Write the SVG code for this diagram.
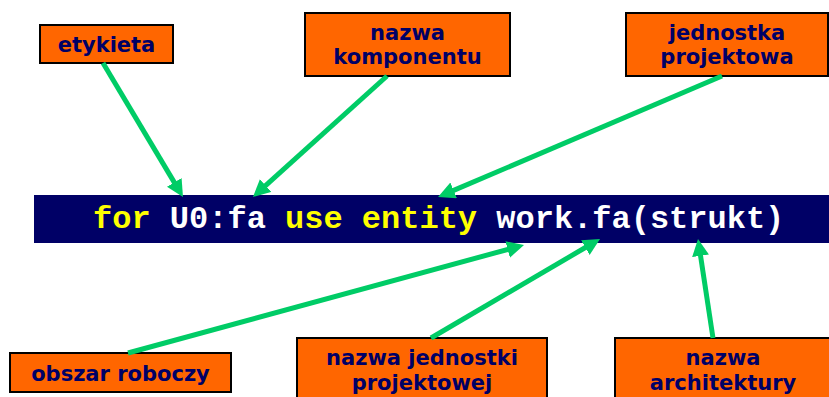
<svg xmlns="http://www.w3.org/2000/svg" width="829" height="397" viewBox="0 0 829 397">
  <style>
    .box { fill: #ff6600; stroke: #000; stroke-width: 2; }
    .lbl { font-family: "DejaVu Sans", Verdana, sans-serif; font-weight: bold; font-size: 21px; fill: #000066; text-anchor: middle; }
    .code { font-family: "Liberation Mono", "Courier New", monospace; font-weight: bold; font-size: 32px; }
    .kw { fill: #ffff00; }
    .id { fill: #ffffff; }
    .arrow { stroke: #00cc66; stroke-width: 5; fill: none; marker-end: url(#head); }
  </style>
  <defs>
    <marker id="head" markerUnits="userSpaceOnUse" markerWidth="18" markerHeight="18" refX="9" refY="8.5" orient="auto">
      <path d="M0,0 L17,8.5 L0,17 z" fill="#00cc66"/>
    </marker>
  </defs>
  <rect width="829" height="397" fill="#ffffff"/>

  <!-- VHDL configuration statement -->
  <g id="statement">
    <rect x="34" y="195" width="800" height="48" fill="#000066"/>
    <text class="code" x="93" y="228"><tspan class="kw">for</tspan><tspan class="id"> U0:fa </tspan><tspan class="kw">use entity</tspan><tspan class="id"> work.fa(strukt)</tspan></text>
  </g>

  <g id="etykieta">
    <rect class="box" x="40" y="25" width="133" height="38"/>
    <text class="lbl" x="106.5" y="52">etykieta</text>
  </g>

  <g id="nazwa-komponentu">
    <rect class="box" x="305" y="13" width="205" height="63"/>
    <text class="lbl" x="407.5" y="40">nazwa</text>
    <text class="lbl" x="407.5" y="64">komponentu</text>
  </g>

  <g id="jednostka-projektowa">
    <rect class="box" x="626" y="13" width="202" height="63"/>
    <text class="lbl" x="727" y="40">jednostka</text>
    <text class="lbl" x="727" y="64">projektowa</text>
  </g>

  <g id="obszar-roboczy">
    <rect class="box" x="10" y="353" width="221" height="39"/>
    <text class="lbl" x="120.5" y="381">obszar roboczy</text>
  </g>

  <g id="nazwa-jednostki-projektowej">
    <rect class="box" x="297" y="338" width="250" height="70"/>
    <text class="lbl" x="422" y="365">nazwa jednostki</text>
    <text class="lbl" x="422" y="390">projektowej</text>
  </g>

  <g id="nazwa-architektury">
    <rect class="box" x="615" y="338" width="220" height="70"/>
    <text class="lbl" x="723" y="365">nazwa</text>
    <text class="lbl" x="723" y="390">architektury</text>
  </g>

  <g id="connectors">
    <line class="arrow" x1="103" y1="63" x2="178.9" y2="190.1"/>
    <line class="arrow" x1="387" y1="76" x2="258.9" y2="191.6"/>
    <line class="arrow" x1="722" y1="76" x2="445.4" y2="193.9"/>
    <line class="arrow" x1="128" y1="353" x2="516.3" y2="247.1"/>
    <line class="arrow" x1="431" y1="338" x2="593.1" y2="243"/>
    <line class="arrow" x1="713" y1="338" x2="699.2" y2="246.9"/>
  </g>
</svg>
